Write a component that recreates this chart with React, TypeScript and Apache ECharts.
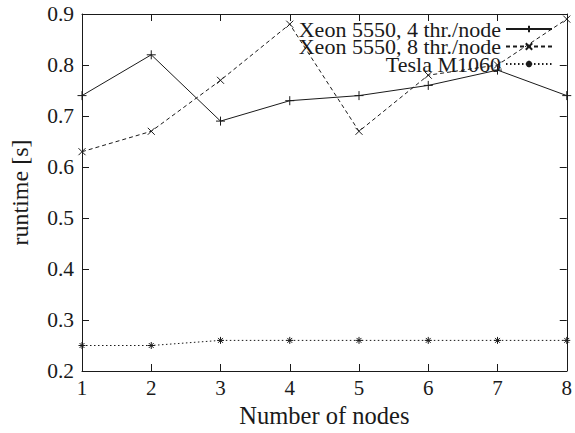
import React, { useEffect, useRef } from "react";
import * as echarts from "echarts";

const nodes = [1, 2, 3, 4, 5, 6, 7, 8];
const xeon4 = [0.74, 0.82, 0.69, 0.73, 0.74, 0.76, 0.79, 0.74];
const xeon8 = [0.63, 0.67, 0.77, 0.88, 0.67, 0.78, 0.8, 0.89];
const tesla = [0.25, 0.25, 0.26, 0.26, 0.26, 0.26, 0.26, 0.26];
const seriesNames = ["Xeon 5550, 4 thr./node", "Xeon 5550, 8 thr./node", "Tesla M1060"];

const FONT = "'Liberation Serif', 'DejaVu Serif', serif";
const INK = "#1a1a1a";

const plusSym = "path://M0,5L10,5M5,0L5,10";
const crossSym = "path://M0,0L10,10M10,0L0,10";
const starSym = "path://M0,5L10,5M5,0L5,10M1.5,1.5L8.5,8.5M8.5,1.5L1.5,8.5";

export default function App() {
  const ref = useRef<HTMLDivElement>(null);
  useEffect(() => {
    if (!ref.current) return;
    const chart = echarts.init(ref.current, null, { renderer: "svg" });
    const pair = (ys: number[]) => nodes.map((x, i) => [x, ys[i]]);
    const tickStyle = { inside: true, length: 7, lineStyle: { color: INK, width: 1 } };
    const mkSeries = (name: string, ys: number[], type: any, sym: string, size: number) => ({
      name,
      type: "line",
      data: pair(ys),
      symbol: sym,
      symbolSize: size,
      showSymbol: true,
      lineStyle: { color: INK, width: 1, type },
      itemStyle: { color: "transparent", borderColor: INK, borderWidth: 1 },
      emphasis: { disabled: true },
    });
    const legendBase = {
      orient: "vertical",
      align: "right",
      right: 22,
      padding: 0,
      itemWidth: 46,
      itemHeight: 8,
      itemGap: 0,
      textStyle: { fontFamily: FONT, fontSize: 22, lineHeight: 17, color: INK },
      selectedMode: false,
      inactiveColor: INK,
    };
    chart.setOption({
      animation: false,
      grid: { left: 77, right: 2, top: 14, bottom: 62, show: false },
      legend: [
        { ...legendBase, top: 18, data: [seriesNames[0]] },
        { ...legendBase, top: 35.5, data: [seriesNames[1]] },
        { ...legendBase, top: 53, data: [seriesNames[2]] },
      ],
      xAxis: [
        {
          type: "value",
          min: 1,
          max: 8,
          interval: 1,
          name: "Number of nodes",
          nameLocation: "middle",
          nameGap: 31,
          nameTextStyle: { fontFamily: FONT, fontSize: 24.5, color: INK },
          axisLine: { show: true, lineStyle: { color: INK, width: 1 } },
          axisTick: tickStyle,
          axisLabel: { fontFamily: FONT, fontSize: 21, color: INK, margin: 6 },
          splitLine: { show: false },
        },
        {
          type: "value",
          position: "top",
          min: 1,
          max: 8,
          interval: 1,
          axisLine: { show: true, lineStyle: { color: INK, width: 1 } },
          axisTick: tickStyle,
          axisLabel: { show: false },
          splitLine: { show: false },
        },
      ],
      yAxis: [
        {
          type: "value",
          min: 0.2,
          max: 0.9,
          interval: 0.1,
          name: "runtime [s]",
          nameLocation: "middle",
          nameGap: 50,
          nameTextStyle: { fontFamily: FONT, fontSize: 24, color: INK },
          axisLine: { show: true, lineStyle: { color: INK, width: 1 } },
          axisTick: tickStyle,
          axisLabel: {
            fontFamily: FONT,
            fontSize: 21.5,
            color: INK,
            margin: 8,
            formatter: (v: number) => v.toFixed(1),
          },
          splitLine: { show: false },
        },
        {
          type: "value",
          position: "right",
          min: 0.2,
          max: 0.9,
          interval: 0.1,
          axisLine: { show: true, lineStyle: { color: INK, width: 1 } },
          axisTick: tickStyle,
          axisLabel: { show: false },
          splitLine: { show: false },
        },
      ],
      series: [
        mkSeries(seriesNames[0], xeon4, "solid", plusSym, 9),
        mkSeries(seriesNames[1], xeon8, [4, 3], crossSym, 7),
        mkSeries(seriesNames[2], tesla, [1.5, 2.5], starSym, 7),
      ],
    });
    return () => chart.dispose();
  }, []);
  return <div ref={ref} style={{ width: 575, height: 433, position: "absolute", left: 0, top: 0, background: "#fff" }} />;
}
